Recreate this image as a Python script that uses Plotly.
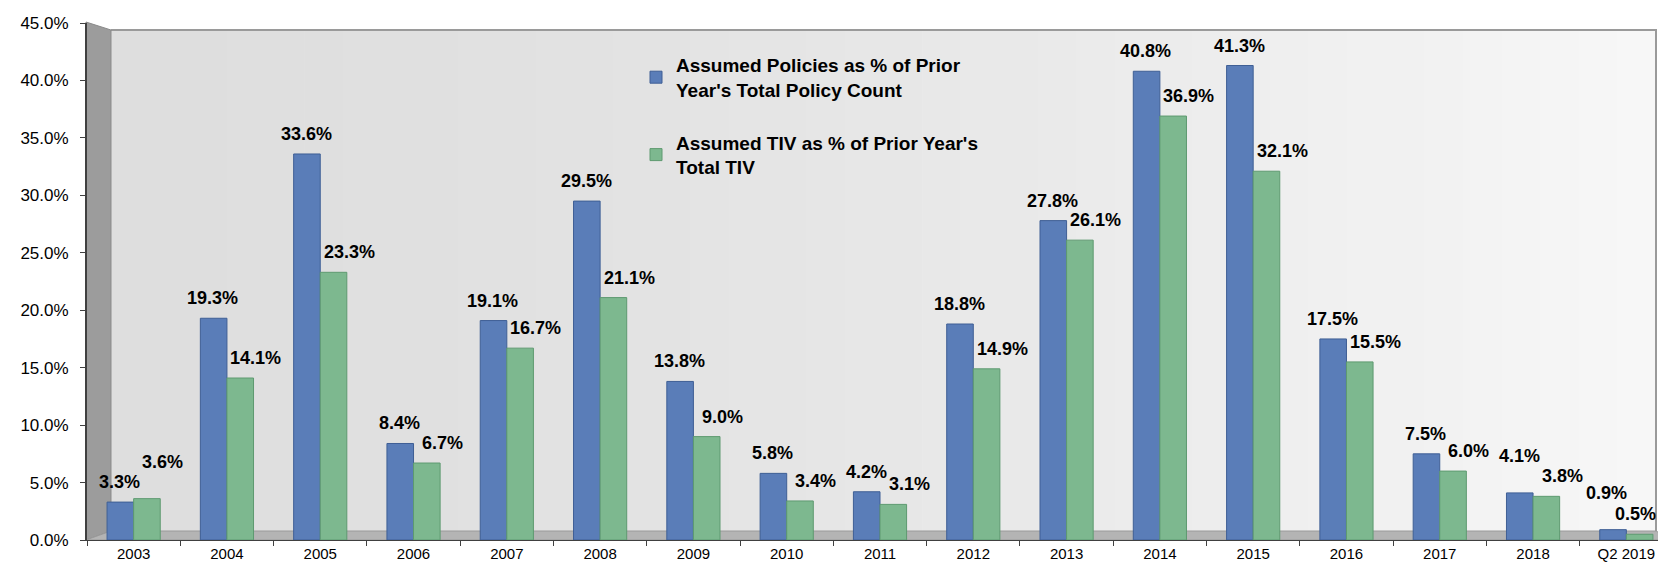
import plotly.graph_objects as go

categories = ["2003", "2004", "2005", "2006", "2007", "2008", "2009", "2010", "2011",
              "2012", "2013", "2014", "2015", "2016", "2017", "2018", "Q2 2019"]
policies_pct = [3.3, 19.3, 33.6, 8.4, 19.1, 29.5, 13.8, 5.8, 4.2,
                18.8, 27.8, 40.8, 41.3, 17.5, 7.5, 4.1, 0.9]
tiv_pct = [3.6, 14.1, 23.3, 6.7, 16.7, 21.1, 9.0, 3.4, 3.1,
           14.9, 26.1, 36.9, 32.1, 15.5, 6.0, 3.8, 0.5]
y_ticks = [0, 5, 10, 15, 20, 25, 30, 35, 40, 45]

name_pol = "Assumed Policies as % of Prior<br>Year's Total Policy Count"
name_tiv = "Assumed TIV as % of Prior Year's<br>Total TIV"

W, H = 1666, 562
ML, MR, MT, MB = 79, 1, 15, 30
PW, PH = W - ML - MR, H - MT - MB
FONT = "Liberation Sans, Arial, sans-serif"


def px(x):
    return (x - ML) / PW


def py(y):
    return (H - MB - y) / PH


fig = go.Figure()
fig.add_trace(go.Bar(
    x=list(range(len(categories))), y=policies_pct, name=name_pol, legendgroup="a",
    marker=dict(color="#5A7DB8", line=dict(color="#3F5F95", width=1)),
))
fig.add_trace(go.Bar(
    x=list(range(len(categories))), y=tiv_pct, name=name_tiv, legendgroup="b",
    marker=dict(color="#7DB88F", line=dict(color="#5E9A70", width=1)),
))

shapes = []
# back wall gradient
x_left, x_right, y_top, y_bot = 103, 1648, 22, 523
n = 40
c0, c1 = (0xDE, 0xDE, 0xDE), (0xF7, 0xF7, 0xF7)
for i in range(n):
    t = (i / (n - 1)) ** 1.5
    c = tuple(int(round(a + (b - a) * t)) for a, b in zip(c0, c1))
    xa = x_left + (x_right - x_left) * i / n
    xb = x_left + (x_right - x_left) * (i + 1) / n
    shapes.append(dict(type="rect", xref="paper", yref="paper", layer="below",
                       x0=px(xa), x1=px(xb) + 0.0005, y0=py(y_bot), y1=py(y_top),
                       line=dict(width=0), fillcolor="rgb(%d,%d,%d)" % c))
# wall border
shapes.append(dict(type="path", xref="paper", yref="paper", layer="below",
                   path="M %f,%f L %f,%f L %f,%f" % (px(x_left), py(y_top), px(x_right), py(y_top),
                                                    px(x_right), py(y_bot)),
                   line=dict(color="#9a9a9a", width=2)))
# left side wall
shapes.append(dict(type="path", xref="paper", yref="paper", layer="below",
                   path="M %f,%f L %f,%f L %f,%f L %f,%f Z" % (px(78), py(14), px(x_left), py(y_top),
                                                              px(x_left), py(y_bot), px(78), py(532)),
                   fillcolor="#9c9c9c", line=dict(color="#8a8a8a", width=1)))
# floor
shapes.append(dict(type="path", xref="paper", yref="paper", layer="below",
                   path="M %f,%f L %f,%f L %f,%f L %f,%f Z" % (px(78), py(532), px(x_left), py(y_bot),
                                                              px(x_right), py(y_bot), px(1665), py(532)),
                   fillcolor="#b4b4b4", line=dict(color="#9a9a9a", width=1)))

annotations = []
last = len(categories) - 1
lab_font = dict(family=FONT, size=18, color="black", weight="bold")
for i, (a, b) in enumerate(zip(policies_pct, tiv_pct)):
    close = abs(a - b) < 1.0
    ya = 20 + (17 if close and a >= b else 0)
    yb = 20 + (17 if close and b > a else 0)
    annotations.append(dict(x=i, y=a, xref="x", yref="y", text="%.1f%%" % a, showarrow=False,
                            xanchor="center", yanchor="middle",
                            xshift=-14 if i < last else -20, yshift=ya, font=lab_font))
    annotations.append(dict(x=i, y=b, xref="x", yref="y", text="%.1f%%" % b, showarrow=False,
                            xanchor="center", yanchor="middle",
                            xshift=29 if i < last else 9, yshift=yb, font=lab_font))

fig.update_layout(
    width=W, height=H,
    margin=dict(l=ML, r=MR, t=MT, b=MB),
    paper_bgcolor="white", plot_bgcolor="rgba(0,0,0,0)",
    barmode="group", bargap=0.43, bargroupgap=0,
    font=dict(family=FONT, color="black"),
    showlegend=True,
    legend=dict(x=px(628), y=py(38), xanchor="left", yanchor="top",
                bgcolor="rgba(0,0,0,0)", tracegroupgap=25, itemwidth=30,
                font=dict(family=FONT, size=19, color="black", weight="bold")),
    shapes=shapes, annotations=annotations,
    xaxis=dict(range=[-0.5, len(categories) - 0.5],
               tickvals=list(range(len(categories))), ticktext=categories,
               showline=True, linecolor="#404040", linewidth=1,
               ticks="", showgrid=False, zeroline=False,
               tickfont=dict(family=FONT, size=15, color="black")),
    xaxis2=dict(overlaying="x", range=[-0.5, len(categories) - 0.5],
                tickvals=[i - 0.5 for i in range(len(categories) + 1)], ticktext=[""] * (len(categories) + 1),
                ticks="outside", ticklen=5, tickcolor="#404040", showgrid=False,
                showline=False, zeroline=False, side="bottom", anchor="y"),
    yaxis=dict(range=[0, 45], tickvals=y_ticks, ticktext=["%.1f%%" % v for v in y_ticks],
               showline=True, linecolor="#404040", linewidth=2,
               ticks="outside", ticklen=5, tickcolor="#404040",
               showgrid=False, zeroline=False, ticklabelstandoff=8,
               tickfont=dict(family=FONT, size=17, color="black")),
)
# invisible trace to activate the boundary-tick axis
fig.add_trace(go.Scatter(x=[0], y=[0], xaxis="x2", mode="markers", marker=dict(opacity=0),
                         showlegend=False, hoverinfo="skip"))

fig.write_html("out.html")
